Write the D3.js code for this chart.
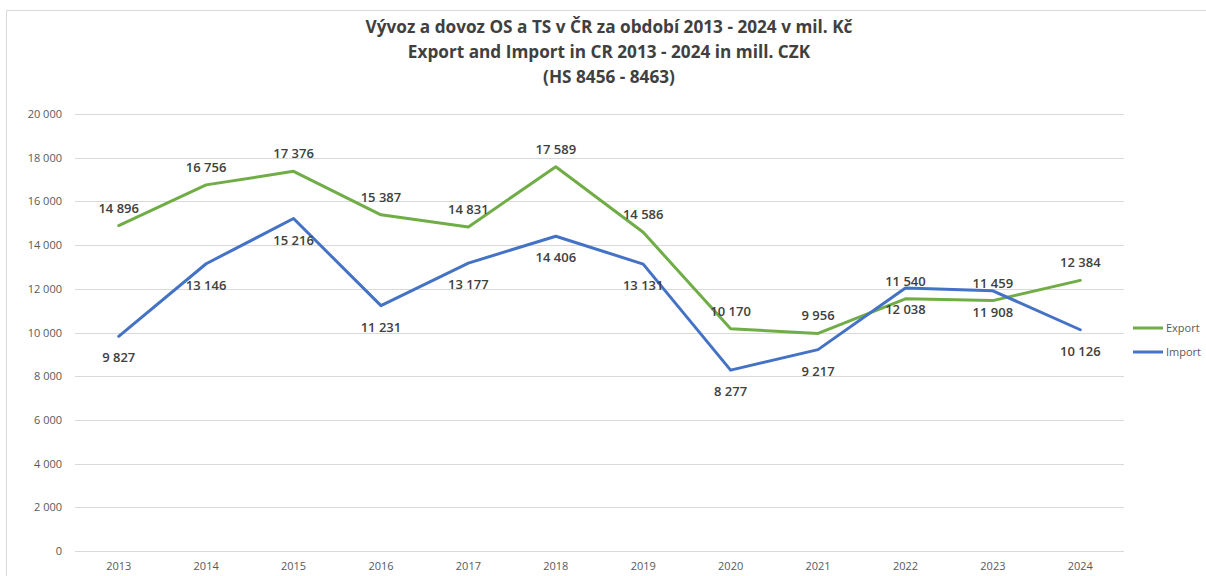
<!DOCTYPE html>
<html>
<head>
<meta charset="utf-8">
<script src="https://cdn.jsdelivr.net/npm/d3@7"></script>
<style>
  html, body { margin: 0; padding: 0; background: #fff; }
  svg { display: block; }
</style>
</head>
<body>
<svg id="chart" width="1206" height="576"></svg>
<script>
const years = ["2013","2014","2015","2016","2017","2018","2019","2020","2021","2022","2023","2024"];
const exportValues = [14896, 16756, 17376, 15387, 14831, 17589, 14586, 10170, 9956, 11540, 11459, 12384];
const importValues = [9827, 13146, 15216, 11231, 13177, 14406, 13131, 8277, 9217, 12038, 11908, 10126];
const yTicks = [0, 2000, 4000, 6000, 8000, 10000, 12000, 14000, 16000, 18000, 20000];
const titleLines = [
  "Vývoz a dovoz OS a TS v ČR za období 2013 - 2024 v mil. Kč",
  "Export and Import in CR 2013 - 2024 in mill. CZK",
  "(HS 8456 - 8463)"
];
const seriesNames = ["Export", "Import"];

(function () {
const svg = d3.select("#chart");
const font = "'Open Sans', 'Noto Sans', sans-serif";
const fmt = v => d3.format(",")(v).replace(/,/g, " ");

// chart frame
svg.append("path")
  .attr("d", "M6.5,576 V10.5 H1206")
  .attr("fill", "none")
  .attr("stroke", "#d9d9d9")
  .attr("stroke-width", 1);

const plotLeft = 75, plotRight = 1124, plotTop = 114, plotBottom = 551;
const x = d3.scaleBand().domain(years).range([plotLeft, plotRight]);
const y = d3.scaleLinear().domain([0, 20000]).range([plotBottom, plotTop]);

// title
svg.append("g").selectAll("text").data(titleLines).join("text")
  .attr("x", 609)
  .attr("y", (d, i) => 33 + i * 25)
  .attr("text-anchor", "middle")
  .attr("font-family", font)
  .attr("font-weight", 700)
  .attr("font-size", 17.2)
  .attr("fill", "#404040")
  .text(d => d);

// gridlines
svg.append("g").selectAll("line").data(yTicks).join("line")
  .attr("x1", plotLeft).attr("x2", plotRight)
  .attr("y1", d => Math.round(y(d)) + 0.5)
  .attr("y2", d => Math.round(y(d)) + 0.5)
  .attr("stroke", "#d9d9d9").attr("stroke-width", 1);

// y axis
const yAxis = svg.append("g")
  .attr("transform", `translate(${plotLeft},0)`)
  .call(d3.axisLeft(y).tickValues(yTicks).tickFormat(fmt).tickSize(0).tickPadding(13));
yAxis.select(".domain").remove();
yAxis.selectAll("text")
  .attr("font-family", font).attr("font-size", 11).attr("fill", "#595959");

// x axis
const xAxis = svg.append("g")
  .attr("transform", `translate(0,${plotBottom})`)
  .call(d3.axisBottom(x).tickSize(0).tickPadding(11));
xAxis.select(".domain").remove();
xAxis.selectAll("text")
  .attr("font-family", font).attr("font-size", 11).attr("fill", "#595959");

const colors = ["#70AD47", "#4472C4"];
const allSeries = [exportValues, importValues];
const line = d3.line()
  .x((d, i) => x(years[i]) + x.bandwidth() / 2)
  .y(d => y(d));

allSeries.forEach((vals, s) => {
  svg.append("path")
    .datum(vals)
    .attr("d", line)
    .attr("fill", "none")
    .attr("stroke", colors[s])
    .attr("stroke-width", 3)
    .attr("stroke-linejoin", "round")
    .attr("stroke-linecap", "round");
});

// data labels: export above, import below
allSeries.forEach((vals, s) => {
  svg.append("g").selectAll("text").data(vals).join("text")
    .attr("x", (d, i) => x(years[i]) + x.bandwidth() / 2)
    .attr("y", d => s === 0 ? y(d) - 13 : y(d) + 26)
    .attr("text-anchor", "middle")
    .attr("font-family", font)
    .attr("font-weight", 600)
    .attr("font-size", 13)
    .attr("fill", "#404040")
    .text(fmt);
});

// legend
const legend = svg.append("g");
seriesNames.forEach((name, i) => {
  const ly = 328 + i * 24;
  legend.append("line")
    .attr("x1", 1133).attr("x2", 1163)
    .attr("y1", ly).attr("y2", ly)
    .attr("stroke", colors[i]).attr("stroke-width", 3);
  legend.append("text")
    .attr("x", 1166).attr("y", ly + 4)
    .attr("font-family", font).attr("font-size", 11).attr("fill", "#595959")
    .text(name);
});
})();
</script>
</body>
</html>
